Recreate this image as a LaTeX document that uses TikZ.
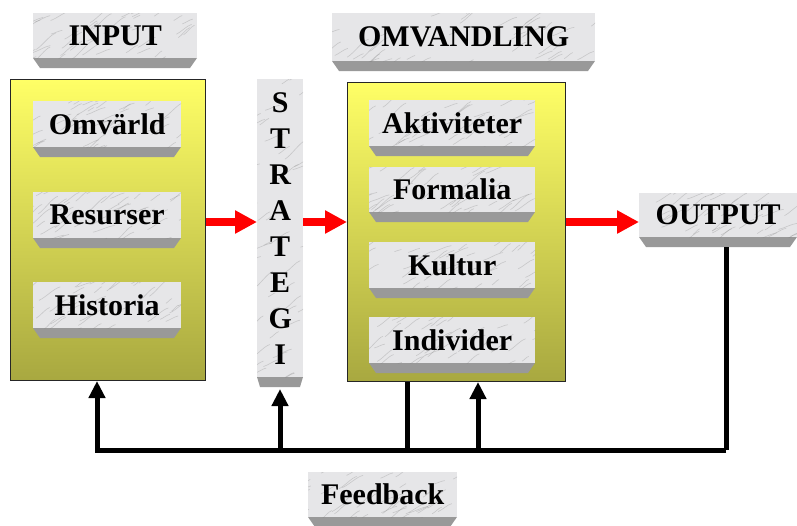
\documentclass[tikz,border=0pt]{standalone}
\usepackage{fontspec}
\setmainfont{Liberation Serif}
\usetikzlibrary{arrows.meta,calc}
\definecolor{ytop}{RGB}{255,255,102}
\definecolor{ybot}{RGB}{168,168,64}
\definecolor{bev}{RGB}{153,153,153}
\definecolor{marb}{RGB}{230,230,232}
\definecolor{redarr}{RGB}{255,0,0}
\tikzset{
  lbl/.style={font=\bfseries\fontsize{30}{36}\selectfont, inner sep=0pt, anchor=north west, align=center},
  bevel/.style={fill=bev},
  marble/.style={fill=marb},
  vein/.style={draw=gray, line width=0.6pt, opacity=0.3},
  ybox/.style={draw=black!85, line width=1pt, top color=ytop, bottom color=ybot, inner sep=0pt, anchor=north west},
  redarrow/.style={draw=redarr, line width=8pt, -{Triangle[length=22pt,width=22pt]}},
  fb/.style={line width=5pt, draw=black},
  fbarrow/.style={fb, -{Triangle[length=17pt,width=16pt]}},
}
% [inset]{name}{x1}{y1}{x2}{y2}{text}
\newcommand\slab[7][7]{%
  \fill[bevel] (#3,#6) -- (#5,#6) -- (#5-#1,#6+10) -- (#3+#1,#6+10) -- cycle;
  \fill[marble] (#3,#4) rectangle (#5,#6);
  \begin{scope}
    \clip (#3,#4) rectangle (#5,#6);
    \foreach \k in {1,...,45}{%
      \pgfmathsetmacro\vx{#3-20+rnd*(#5-#3+20)}%
      \pgfmathsetmacro\vy{#4+rnd*(#6-#4+10)}%
      \pgfmathsetmacro\vl{6+rnd*16}%
      \pgfmathsetmacro\vs{0.3+rnd*0.6}%
      \draw[vein] (\vx,\vy) .. controls (\vx+0.3*\vl,\vy-\vs*0.2*\vl) and (\vx+0.7*\vl,\vy-\vs*0.9*\vl) .. (\vx+\vl,\vy-\vs*\vl);
    }
  \end{scope}
  \node[lbl, minimum width={(#5-#3)*1pt}, minimum height={(#6-#4)*1pt}] (#2) at (#3,#4) {#7};
}
\begin{document}
\begin{tikzpicture}[x=1pt,y=-1pt]
\pgfmathsetseed{7}
\useasboundingbox (0,0) rectangle (797,525);

% yellow containers
\node[ybox, minimum width=195pt, minimum height=301pt] (inbox) at (10,79) {};
\node[ybox, minimum width=218pt, minimum height=299pt] (midbox) at (347,82) {};

% helper coordinates
\coordinate (ay) at (0,222);
\coordinate (fbL) at (97,450);
\coordinate (fbS) at (280,450);
\coordinate (fbA) at (407,450);
\coordinate (fbB) at (478,450);
\coordinate (fbR) at (726,450);

% marble slabs (text boxes)
\slab{inputl}{33}{13}{197}{58}{INPUT}
\slab{omvl}{332}{13}{595}{61}{OMVANDLING}
\slab{omv}{33}{101}{181}{147}{Omvärld}
\slab{res}{33}{192}{181}{238}{Resurser}
\slab{hist}{33}{282}{181}{328}{Historia}
\slab{akt}{369}{100}{535}{146}{Aktiviteter}
\slab{form}{369}{167}{535}{212}{Formalia}
\slab{kult}{369}{242}{535}{288}{Kultur}
\slab{indiv}{369}{317}{535}{363}{Individer}

% feedback lines (below the bevels of strategi/output)
\draw[fbarrow] (fbR) -- (fbL) -- (inbox.south -| fbL);
\draw[fbarrow] (fbS) -- ($(fbS |- inbox.south)+(0,8)$);
\draw[fb] (midbox.south -| fbA) -- (fbA);
\draw[fbarrow] (fbB) -- (midbox.south -| fbB);

\slab[3]{strat}{257}{79}{303}{377}{S\\T\\R\\A\\T\\E\\G\\I}
\slab{outp}{639}{193}{797}{237}{OUTPUT}
\draw[fb] (outp.south -| fbR) ++(0,10) -- (fbR);
\slab{feed}{308}{472}{457}{517}{Feedback}

% red flow arrows
\draw[redarrow] (inbox.east |- ay) -- (strat.west |- ay);
\draw[redarrow] (strat.east |- ay) -- (midbox.west |- ay);
\draw[redarrow] (midbox.east |- ay) -- (outp.west |- ay);
\end{tikzpicture}
\end{document}
